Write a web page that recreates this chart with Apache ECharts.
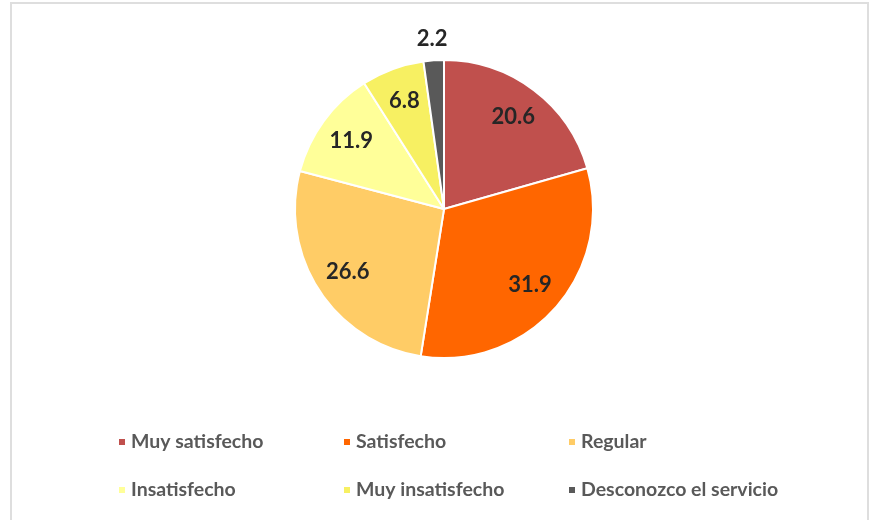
<!DOCTYPE html>
<html><head><meta charset="utf-8">
<script src="https://cdn.jsdelivr.net/npm/echarts@6/dist/echarts.min.js"></script>
<style>html,body{margin:0;padding:0;background:#fff}#c{width:869px;height:520px}</style>
</head><body><div id="c"></div>
<script>
const categories = ['Muy satisfecho','Satisfecho','Regular','Insatisfecho','Muy insatisfecho','Desconozco el servicio'];
const values = [20.6, 31.9, 26.6, 11.9, 6.8, 2.2];
const colors = ['#C0504D','#FF6600','#FFCC66','#FFFF99','#F7F062','#595959'];
const outsideLabels = [false,false,false,false,false,true];

const chart = echarts.init(document.getElementById('c'));
const cx = 444, cy = 209, R = 149;
const font = 'Lato, "Open Sans", sans-serif';
const baseData = categories.map((n,i)=>({name:n,value:values[i],itemStyle:{color:colors[i]}}));

const legendPos = [[117,431],[342,431],[567,431],[117,479],[342,479],[567,479]];
const legends = categories.map((n,i)=>({
  data:[n], left:legendPos[i][0], top:legendPos[i][1], orient:'horizontal',
  icon:'rect', itemWidth:8, itemHeight:8, padding:0, selectedMode:false,
  textStyle:{fontFamily:font, fontSize:19.5, fontWeight:'bold', color:'#595959', lineHeight:22}
}));

chart.setOption({
  animation:false,
  backgroundColor:'#fff',
  graphic:[{type:'rect', shape:{x:11,y:3,width:857,height:540}, style:{fill:'none',stroke:'#dedede',lineWidth:2}, silent:true}],
  legend: legends,
  series:[
    {type:'pie', center:[cx,cy], radius:[0,R], startAngle:90, clockwise:true,
     data:baseData, label:{show:false}, labelLine:{show:false},
     itemStyle:{borderColor:'#fff', borderWidth:2}, emphasis:{disabled:true}},
    {type:'pie', center:[cx,cy], radius:[75,R], startAngle:90, clockwise:true, silent:true,
     data:categories.map((n,i)=>({name:n,value:values[i],itemStyle:{color:'transparent'},
       label:{show:!outsideLabels[i]}})),
     label:{position:'inside', formatter:p=>values[p.dataIndex].toFixed(1), fontFamily:font, fontSize:22, fontWeight:'bold', color:'#262626'},
     labelLine:{show:false}, itemStyle:{borderWidth:0}, emphasis:{disabled:true}},
    {type:'pie', center:[cx,cy], radius:[R+1,R+36], startAngle:90, clockwise:true, silent:true,
     data:categories.map((n,i)=>({name:n,value:values[i],itemStyle:{color:'transparent'},
       label:{show:outsideLabels[i]}})),
     label:{position:'inside', formatter:p=>values[p.dataIndex].toFixed(1), fontFamily:font, fontSize:22, fontWeight:'bold', color:'#262626'},
     labelLine:{show:false}, itemStyle:{borderWidth:0}, emphasis:{disabled:true}}
  ]
});
</script></body></html>
